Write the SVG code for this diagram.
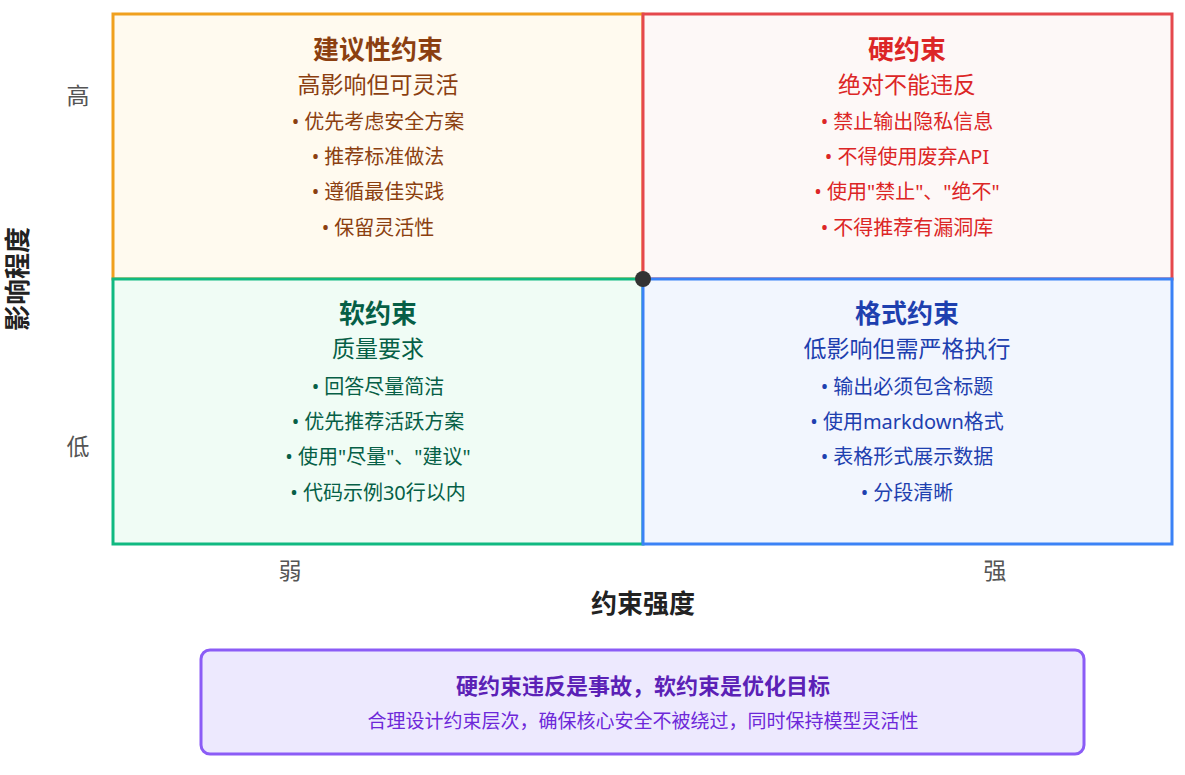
<svg xmlns="http://www.w3.org/2000/svg" width="1185" height="775" viewBox="0 0 1185 775">
<style>
text{font-family:"Noto Sans","Noto Sans CJK SC",sans-serif;text-anchor:middle}
.t{font-size:26px;font-weight:bold}
.s{font-size:23px}
.b{font-size:20px}
.ax{font-size:23px;fill:#555}
</style>
<rect width="1185" height="775" fill="#fff"/>
<g id="q-advisory">
<rect x="113" y="14" width="530" height="265" fill="#fffaef" stroke="#f0a01e" stroke-width="3"/>
<g fill="#8b3f10"><text class="t" x="378" y="59">建议性约束</text><text class="s" x="378" y="93">高影响但可灵活</text>
<text class="b" x="378" y="129">• 优先考虑安全方案</text><text class="b" x="378" y="164">• 推荐标准做法</text><text class="b" x="378" y="199">• 遵循最佳实践</text><text class="b" x="378" y="235">• 保留灵活性</text></g>
</g>
<g id="q-hard">
<rect x="643" y="14" width="529" height="265" fill="#fdf8f7" stroke="#e5484d" stroke-width="3"/>
<g fill="#dc2626"><text class="t" x="907" y="59">硬约束</text><text class="s" x="907" y="93">绝对不能违反</text>
<text class="b" x="907" y="129">• 禁止输出隐私信息</text><text class="b" x="907" y="164">• 不得使用废弃API</text><text class="b" x="907" y="199">• 使用"禁止"、"绝不"</text><text class="b" x="907" y="235">• 不得推荐有漏洞库</text></g>
</g>
<g id="q-soft">
<rect x="113" y="279" width="530" height="265" fill="#f0fcf5" stroke="#10b981" stroke-width="3"/>
<g fill="#065f46"><text class="t" x="378" y="323">软约束</text><text class="s" x="378" y="357">质量要求</text>
<text class="b" x="378" y="394">• 回答尽量简洁</text><text class="b" x="378" y="429">• 优先推荐活跃方案</text><text class="b" x="378" y="464">• 使用"尽量"、"建议"</text><text class="b" x="378" y="500">• 代码示例30行以内</text></g>
</g>
<g id="q-format">
<rect x="643" y="279" width="529" height="265" fill="#f2f6fe" stroke="#3b82f6" stroke-width="3"/>
<g fill="#1e40af"><text class="t" x="907" y="323">格式约束</text><text class="s" x="907" y="357">低影响但需严格执行</text>
<text class="b" x="907" y="394">• 输出必须包含标题</text><text class="b" x="907" y="429">• 使用markdown格式</text><text class="b" x="907" y="464">• 表格形式展示数据</text><text class="b" x="907" y="500">• 分段清晰</text></g>
</g>
<g id="center"><circle cx="643" cy="279" r="8" fill="#333"/></g>
<g id="axes">
<text class="ax" x="78" y="104">高</text><text class="ax" x="78" y="455">低</text>
<text class="ax" x="290" y="579">弱</text><text class="ax" x="995" y="579">强</text>
<text x="643" y="613" style="font-size:26px;font-weight:bold;fill:#222">约束强度</text>
<text transform="translate(27,279) rotate(-90)" style="font-size:26px;font-weight:bold;fill:#222">影响程度</text>
</g>
<g id="note">
<rect x="201" y="650" width="883" height="104" rx="9" fill="#ede9fe" stroke="#8b5cf6" stroke-width="3"/>
<text x="643" y="694" style="font-size:22px;font-weight:bold;fill:#5b21b6">硬约束违反是事故，软约束是优化目标</text>
<text x="643" y="728" style="font-size:19px;fill:#6d28d9">合理设计约束层次，确保核心安全不被绕过，同时保持模型灵活性</text>
</g>
</svg>
